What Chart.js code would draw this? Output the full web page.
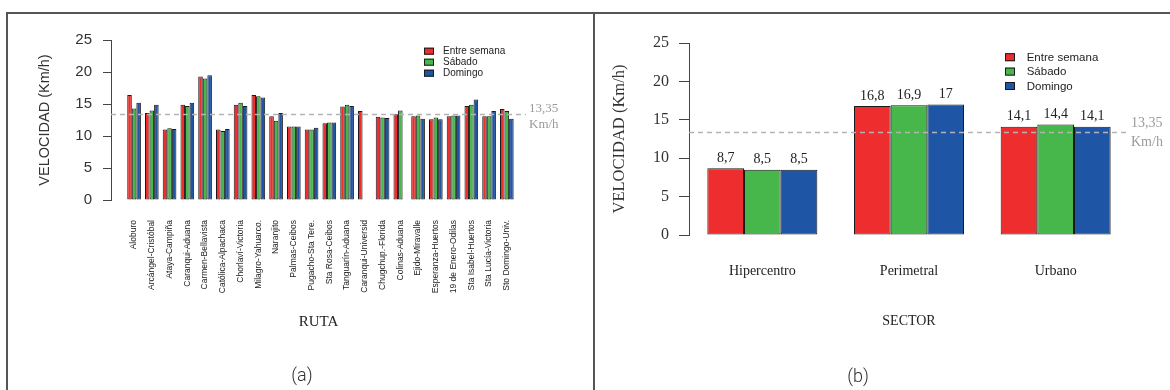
<!DOCTYPE html>
<html>
<head>
<meta charset="utf-8">
<script src="https://cdn.jsdelivr.net/npm/chart.js@4/dist/chart.umd.min.js"></script>
<style>
  html, body { margin: 0; padding: 0; background: #fff; }
  body { width: 1170px; height: 390px; position: relative; overflow: hidden; }
  canvas { position: absolute; top: 0; }
  #chartA { left: 0; }
  #chartB { left: 596px; }
  .rule { position: absolute; background: #555; }
  .cap { position: absolute; font-family: Roboto, "Liberation Sans", sans-serif; font-weight: 300;
         font-size: 18px; color: #333; transform: translateX(-50%); white-space: nowrap; line-height: 1; }
</style>
</head>
<body>
<div class="rule" style="left:6px; top:12px; width:1164px; height:2px;"></div>
<div class="rule" style="left:6px; top:12px; width:2px; height:378px;"></div>
<div class="rule" style="left:593px; top:12px; width:2px; height:378px;"></div>
<canvas id="chartA" width="594" height="390"></canvas>
<canvas id="chartB" width="574" height="390"></canvas>
<div class="cap" style="left:302px; top:366px;">(a)</div>
<div class="cap" style="left:858px; top:367px;">(b)</div>

<script>
// ---- Velocidad media por ruta (km/h) ----
const rutas = [
  'Aloburo', 'Arcángel-Cristóbal', 'Ataya-Campiña', 'Caranqui-Aduana', 'Carmen-Bellavista',
  'Católica-Alpachaca', 'Chorlaví-Victoria', 'Milagro-Yahuarco.', 'Naranjito', 'Palmas-Ceibos',
  'Pugacho-Sta Tere.', 'Sta Rosa-Ceibos', 'Tanguarín-Aduana', 'Caranqui-Universid', 'Chugchup.-Florida',
  'Colinas-Aduana', 'Ejido-Miravalle', 'Esperanza-Huertos', '19 de Enero-Odilas', 'Sta Isabel-Huertos',
  'Sta Lucía-Victoria', 'Sto Domingo-Univ.'
];
const entreSemanaRuta = [16.4, 13.6, 11.0, 14.9, 19.3, 11.0, 14.9, 16.4, 13.1, 11.5, 11.0, 12.0, 14.6, 13.9, 13.0, 13.4, 13.1, 12.6, 13.1, 14.7, 13.1, 14.2];
const sabadoRuta      = [14.3, 14.0, 11.2, 14.7, 19.0, 10.8, 15.2, 16.2, 12.4, 11.5, 11.0, 12.1, 14.9, null, 12.9, 14.0, 13.2, 12.9, 13.2, 14.9, 13.1, 13.9];
const domingoRuta     = [15.2, 14.9, 11.1, 15.2, 19.5, 11.1, 14.7, 16.0, 13.6, 11.5, 11.3, 12.1, 14.7, null, 12.8, null, 12.7, 12.6, 13.2, 15.7, 13.9, 12.7];

// ---- Velocidad media por sector (km/h) ----
const sectores = ['Hipercentro', 'Perimetral', 'Urbano'];
const entreSemanaSector = [8.7, 16.8, 14.1];
const sabadoSector      = [8.5, 16.9, 14.4];
const domingoSector     = [8.5, 17, 14.1];

// Velocidad promedio general y etiquetas de la serie
const velocidadPromedio = 13.35;
const nombresSerie = ['Entre semana', 'Sábado', 'Domingo'];
const ticksVelocidad = [0, 5, 10, 15, 20, 25];

const ROJO = '#ee2e2e', VERDE = '#47b74b', AZUL = '#1f55a5';
const SANS = '"Liberation Sans", Arial, sans-serif';
const SERIF = '"Liberation Serif", "Times New Roman", serif';
const coma = v => String(v).replace('.', ',');

// Leyenda dibujada dentro del área de trazado
const leyendaInterna = {
  id: 'leyendaInterna',
  afterDraw(chart, args, o) {
    const ctx = chart.ctx;
    ctx.save();
    ctx.font = o.font;
    ctx.textBaseline = 'middle';
    ctx.textAlign = 'left';
    chart.data.datasets.forEach((ds, i) => {
      const cy = o.y + i * o.rowHeight;
      ctx.fillStyle = ds.backgroundColor;
      ctx.fillRect(o.x, cy - o.boxH / 2, o.boxW, o.boxH);
      ctx.lineWidth = 1;
      ctx.strokeStyle = '#1a1a1a';
      ctx.strokeRect(o.x + 0.5, cy - o.boxH / 2 + 0.5, o.boxW - 1, o.boxH - 1);
      ctx.fillStyle = '#222';
      ctx.fillText(ds.label, o.x + o.textGap, cy + 0.5);
    });
    ctx.restore();
  }
};

// Línea de referencia (promedio) con su rótulo a la derecha
const lineaPromedio = {
  id: 'lineaPromedio',
  afterDatasetsDraw(chart, args, o) {
    const {ctx, chartArea, scales} = chart;
    const y = scales.y.getPixelForValue(o.value);
    ctx.save();
    ctx.strokeStyle = '#b4b4b4';
    ctx.lineWidth = 1.5;
    ctx.setLineDash([5, 4]);
    ctx.beginPath();
    ctx.moveTo(chartArea.left, y);
    ctx.lineTo(chartArea.right, y);
    ctx.stroke();
    ctx.setLineDash([]);
    ctx.fillStyle = '#9a9a9a';
    ctx.font = o.font;
    ctx.textAlign = 'left';
    ctx.textBaseline = 'middle';
    ctx.fillText(coma(o.value), chartArea.right + o.dx, y + o.dy1);
    ctx.fillText('Km/h', chartArea.right + o.dx, y + o.dy2);
    ctx.restore();
  }
};

// Valores sobre cada barra
const valoresBarras = {
  id: 'valoresBarras',
  afterDatasetsDraw(chart, args, o) {
    const ctx = chart.ctx;
    ctx.save();
    ctx.font = o.font;
    ctx.fillStyle = '#222';
    ctx.textAlign = 'center';
    ctx.textBaseline = 'bottom';
    chart.data.datasets.forEach((ds, di) => {
      chart.getDatasetMeta(di).data.forEach((bar, i) => {
        const v = ds.data[i];
        if (v == null) return;
        ctx.fillText(coma(v), bar.x, bar.y - o.gap);
      });
    });
    ctx.restore();
  }
};

const estiloBarra = { borderColor: '#1a1a1a', borderWidth: 1, borderSkipped: false };

// ---------- (a) por ruta ----------
const toXY = arr => arr.map((v, i) => ({ x: i, y: v }));
new Chart(document.getElementById('chartA'), {
  type: 'bar',
  data: {
    datasets: [
      { label: nombresSerie[0], data: toXY(entreSemanaRuta), backgroundColor: ROJO, ...estiloBarra },
      { label: nombresSerie[1], data: toXY(sabadoRuta), backgroundColor: VERDE, ...estiloBarra },
      { label: nombresSerie[2], data: toXY(domingoRuta), backgroundColor: AZUL, ...estiloBarra }
    ]
  },
  plugins: [leyendaInterna, lineaPromedio],
  options: {
    responsive: false,
    animation: false,
    categoryPercentage: 0.77,
    barPercentage: 1,
    layout: { padding: { top: 40, right: 68, bottom: 0, left: 0 } },
    plugins: {
      legend: { display: false },
      tooltip: { enabled: false },
      leyendaInterna: { x: 424, y: 51.2, rowHeight: 11, boxW: 10, boxH: 7, textGap: 19, font: '10px ' + SANS },
      lineaPromedio: { value: velocidadPromedio, font: '13px ' + SERIF, dx: 3, dy1: -6, dy2: 10 }
    },
    scales: {
      x: {
        type: 'linear',
        offset: false,
        min: -1.30,
        max: 22.08,
        grid: { display: false, drawTicks: false },
        border: { display: false },
        afterBuildTicks: s => { s.ticks = rutas.map((_, i) => ({ value: i })); },
        afterFit: s => { s.height = 190; },
        ticks: {
          autoSkip: false,
          minRotation: 90,
          maxRotation: 90,
          padding: 20,
          color: '#222',
          font: { family: SANS, size: 8.5 },
          callback: v => rutas[v] ?? ''
        },
        title: { display: true, text: 'RUTA', color: '#222', font: { family: SERIF, size: 15 }, padding: { top: 0, bottom: 59 } }
      },
      y: {
        min: 0,
        max: 25,
        afterBuildTicks: s => { s.ticks = ticksVelocidad.map(v => ({ value: v })); },
        afterFit: s => { s.width = 111; },
        grid: { drawOnChartArea: false, drawTicks: true, tickLength: 8, color: '#444', lineWidth: 1 },
        border: { display: true, color: '#444', width: 1 },
        ticks: { padding: 11, color: '#333', font: { family: SANS, size: 15 } },
        title: { display: true, text: 'VELOCIDAD (Km/h)', color: '#333', font: { family: SANS, size: 14.5 }, padding: { top: 36, bottom: 0 } }
      }
    }
  }
});

// ---------- (b) por sector ----------
new Chart(document.getElementById('chartB'), {
  type: 'bar',
  data: {
    labels: sectores,
    datasets: [
      { label: nombresSerie[0], data: entreSemanaSector, backgroundColor: ROJO, ...estiloBarra },
      { label: nombresSerie[1], data: sabadoSector, backgroundColor: VERDE, ...estiloBarra },
      { label: nombresSerie[2], data: domingoSector, backgroundColor: AZUL, ...estiloBarra }
    ]
  },
  plugins: [leyendaInterna, lineaPromedio, valoresBarras],
  options: {
    responsive: false,
    animation: false,
    categoryPercentage: 0.75,
    barPercentage: 1,
    layout: { padding: { top: 43, right: 41, bottom: 0, left: 0 } },
    plugins: {
      legend: { display: false },
      tooltip: { enabled: false },
      leyendaInterna: { x: 409, y: 57.2, rowHeight: 14.4, boxW: 10, boxH: 8, textGap: 21.7, font: '11.5px ' + SANS },
      lineaPromedio: { value: velocidadPromedio, font: '14px ' + SERIF, dx: 2, dy1: -9.5, dy2: 9.5 },
      valoresBarras: { font: '14px ' + SERIF, gap: 3 }
    },
    scales: {
      x: {
        offset: true,
        grid: { display: false, drawTicks: false },
        border: { display: false },
        afterFit: s => { s.height = 155; },
        ticks: { padding: 28, color: '#222', font: { family: SERIF, size: 14 } },
        title: { display: true, text: 'SECTOR', color: '#222', font: { family: SERIF, size: 14 }, padding: { top: 0, bottom: 60 } }
      },
      y: {
        min: 0,
        max: 25,
        afterBuildTicks: s => { s.ticks = ticksVelocidad.map(v => ({ value: v })); },
        afterFit: s => { s.width = 93; },
        grid: { drawOnChartArea: false, drawTicks: true, tickLength: 10, color: '#444', lineWidth: 1 },
        border: { display: true, color: '#444', width: 1 },
        ticks: { padding: 10, color: '#333', font: { family: SERIF, size: 16 } },
        title: { display: true, text: 'VELOCIDAD (Km/h)', color: '#333', font: { family: SERIF, size: 16.5 }, padding: { top: 14, bottom: 0 } }
      }
    }
  }
});
</script>
</body>
</html>
